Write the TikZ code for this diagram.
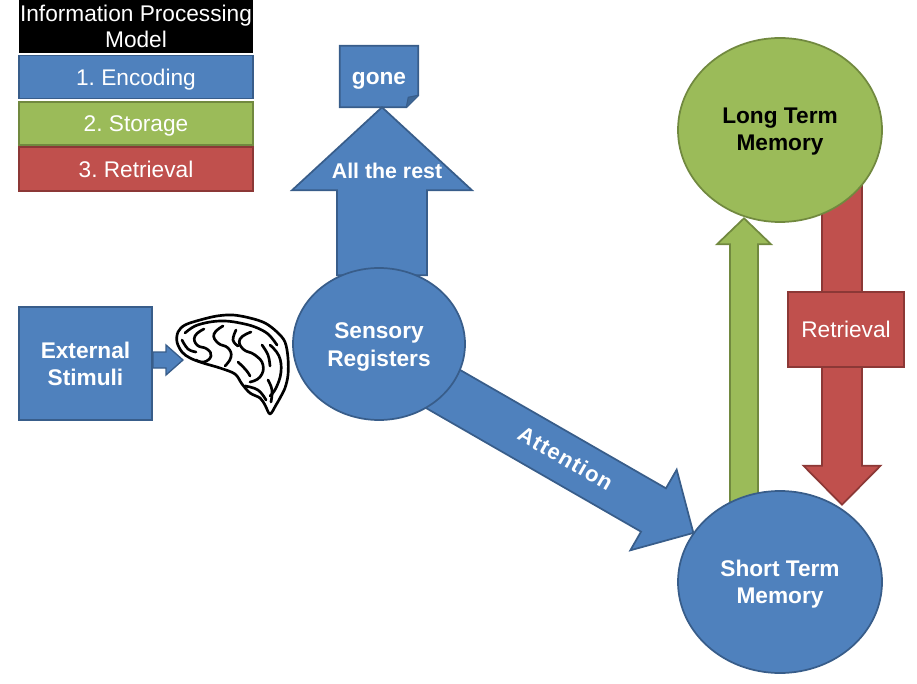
\documentclass[tikz,border=0pt]{standalone}
\usepackage{fontspec}
\setmainfont{Liberation Sans}
\newfontfamily\spacedfont[LetterSpace=5]{Liberation Sans}
\usetikzlibrary{calc,shapes.geometric}
\frenchspacing
\definecolor{oblue}{HTML}{4F81BD}
\definecolor{obluedk}{HTML}{385D8A}
\definecolor{ogreen}{HTML}{9BBB59}
\definecolor{ogreendk}{HTML}{71893F}
\definecolor{ored}{HTML}{C0504D}
\definecolor{oreddk}{HTML}{8C3836}
\definecolor{fold}{HTML}{3E6796}
\begin{document}
\begin{tikzpicture}[x=0.75pt,y=-0.75pt,
  bfont/.style={font=\fontsize{17}{20.3}\selectfont\bfseries},
  lfont/.style={font=\fontsize{17}{19.5}\selectfont},
  bluebox/.style={fill=oblue,draw=obluedk,line width=1.3pt},
  greenbox/.style={fill=ogreen,draw=ogreendk,line width=1.3pt},
  redbox/.style={fill=ored,draw=oreddk,line width=1.3pt},
  legend/.style={lfont,text=white,minimum width=175.5pt,inner sep=0pt,align=center},
  legitem/.style={legend,text height=12.2pt,text depth=0pt},
  blob/.style={ellipse,inner sep=0pt,align=center,bfont},
  brainline/.style={line width=2pt,line join=round,line cap=round}
]
\useasboundingbox (0,0) rectangle (917,684);

% legend
\node[legend,fill=black,minimum height=39.75pt] (title) at (136,26.5) {Information Processing\\Model};
\node[legitem,bluebox,minimum height=32.25pt] (enc) at (136,77) {1. Encoding};
\node[legitem,greenbox,minimum height=32.25pt] (sto) at (136,123.5) {2. Storage};
\node[legitem,redbox,minimum height=33pt] (retl) at (136,169) {3. Retrieval};

% node placeholders
\node[rectangle,minimum width=58.5pt,minimum height=45.75pt,inner sep=0pt] (gone) at (379,76.5) {};
\node[blob,minimum width=129pt,minimum height=114pt] (sr) at (379,344) {};
\node[blob,minimum width=153pt,minimum height=138pt] (ltm) at (780,130) {};
\node[blob,minimum width=153pt,minimum height=136.5pt] (stm) at (780,582) {};

% gone note
\draw[bluebox] ($(gone.north west)$) -- ($(gone.north east)$) -- ($(gone.south east)+(0,-12)$) -- ($(gone.south east)+(-12,0)$) -- ($(gone.south west)$) -- cycle;
\draw[bluebox,fill=fold,line width=0.8pt] ($(gone.south east)+(0,-12)$) -- ($(gone.south east)+(-10,-10)$) -- ($(gone.south east)+(-12,0)$);
\node[bfont,text=white] at ($(gone)+(0,4)$) {gone};

% up arrow: all the rest
\coordinate (upTip) at ($(gone.south)+(3,0)$);
\draw[bluebox] (upTip) -- ++(90,83) -- ++(-45,0) -- ++(0,85) -- ++(-90,0) -- ++(0,-85) -- ++(-45,0) -- cycle;
\node[font=\fontsize{16}{18}\selectfont\bfseries,text=white] (rest) at ($(upTip)+(5,64)$) {All the rest};

% attention arrow
\begin{scope}[shift={(653.5,510)},rotate=-29.9]
  \draw[bluebox] (-265,-25) -- (0,-25) -- (0,-46.5) -- (46,0) -- (0,46.5) -- (0,25) -- (-265,25) -- cycle;
  \node[rotate=-29.9,text=white,font=\fontsize{16.5}{18}\spacedfont\bfseries] (att) at (-102,-1) {Attention};
\end{scope}

% external stimuli
\node[bluebox,bfont,text=white,minimum width=99.75pt,minimum height=84.75pt,align=center] (ext) at (85.5,363.5) {External\\Stimuli};
\coordinate (extTip) at (183,360);
\draw[bluebox,line width=1pt] (ext.east |- 0,352) -- (166,352) -- (166,345) -- (extTip) -- (166,375) -- (166,368) -- (ext.east |- 0,368) -- cycle;

% brain
\coordinate (brain) at (234,364);
\draw[brainline,fill=white] plot[smooth cycle,tension=0.55] coordinates {
 (178,332) (185,325) (200,320) (217,316) (233,315) (250,318) (265,323) (277,332) (285,342) (288,358) (288,375) (285,388) (280,398) (276,405) (270,414) (265,405) (260,398) (250,393) (242,384) (235,374) (220,368) (203,363) (190,358) (182,352) (177,342)};
\draw[brainline] plot[smooth,tension=0.6] coordinates {(185,333) (195,326) (210,322) (225,321) (240,323) (255,327) (268,334) (277,345)};
\draw[brainline] plot[smooth,tension=0.8] coordinates {(204,329) (195,336) (197,345) (207,349) (211,356) (204,362) (196,360)};
\draw[brainline] plot[smooth,tension=0.8] coordinates {(223,326) (214,334) (218,343) (228,348) (231,357) (225,366)};
\draw[brainline] plot[smooth,tension=0.8] coordinates {(251,332) (240,339) (243,349) (255,355) (263,365) (260,377) (250,382)};
\draw[brainline] plot[smooth,tension=0.7] coordinates {(270,345) (279,356) (281,372) (276,388) (270,396)};
\draw[brainline] plot[smooth,tension=0.7] coordinates {(182,340) (188,349) (196,352)};
\draw[brainline] plot[smooth,tension=0.7] coordinates {(245,386) (258,390) (266,400)};
\draw[brainline] plot[smooth,tension=0.7] coordinates {(262,345) (268,355) (270,366)};
\draw[brainline] plot[smooth,tension=0.7] coordinates {(236,330) (233,340) (238,346)};
\draw[brainline] plot[smooth,tension=0.7] coordinates {(238,362) (246,370) (250,376)};
\draw[brainline] plot[smooth,tension=0.7] coordinates {(268,380) (272,390) (271,402)};

% sensory registers
\draw[bluebox] (sr.center) ellipse [x radius=86, y radius=76];
\node[bfont,text=white,align=center] at ($(sr)+(0,3)$) {Sensory\\Registers};

% red retrieval arrow (behind LTM)
\coordinate (rTip) at ($(stm.north)+(62,14)$);
\draw[redbox] (rTip) -- ++(38.5,-39) -- ++(-18.5,0) -- ++(0,-286) -- ++(-40,0) -- ++(0,286) -- ++(-18.5,0) -- cycle;

% long term memory
\draw[greenbox] (ltm.center) ellipse [x radius=102, y radius=92];
\node[bfont,text=black,align=center] at ($(ltm)+(0,2)$) {Long Term\\Memory};

% green storage arrow
\coordinate (gTip) at ($(ltm.south)+(-36,-4)$);
\draw[greenbox] (gTip) -- ++(27,26) -- ++(-13,0) -- ++(0,267) -- ++(-28,0) -- ++(0,-267) -- ++(-13,0) -- cycle;

% retrieval box
\node[redbox,lfont,text=white,minimum width=87pt,minimum height=56.25pt] (retbox) at (846,329.5) {Retrieval};

% short term memory
\draw[bluebox] (stm.center) ellipse [x radius=102, y radius=91];
\node[bfont,text=white,align=center] at ($(stm)+(0,2)$) {Short Term\\Memory};
\end{tikzpicture}
\end{document}
